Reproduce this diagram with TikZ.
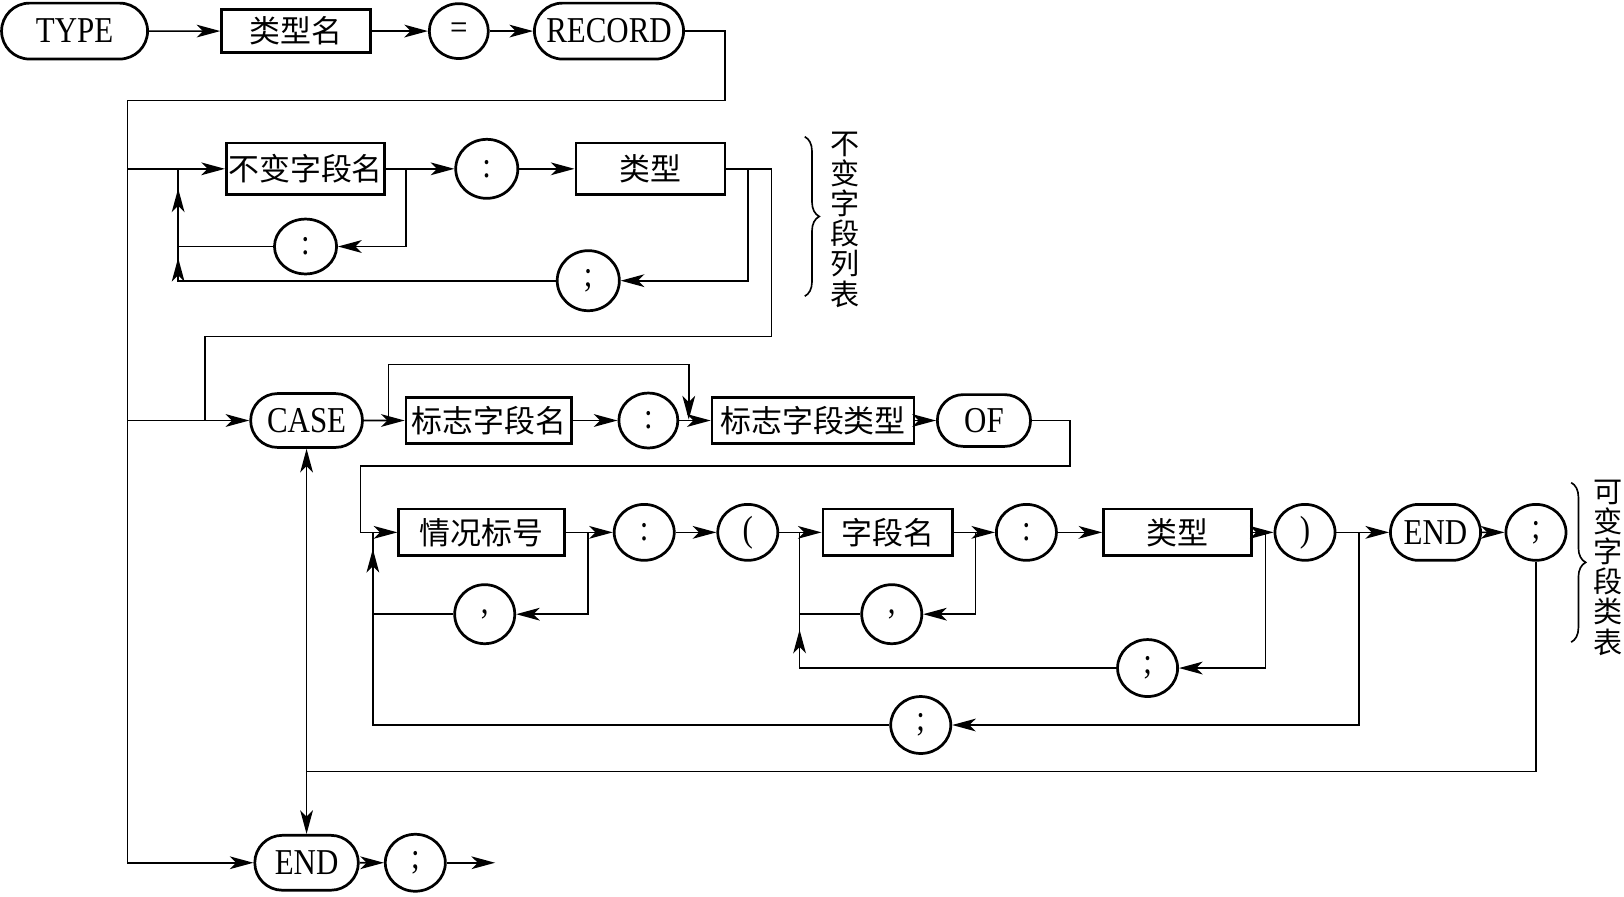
\documentclass[tikz,border=0pt]{standalone}
\usepackage{fontspec}
\setmainfont{Liberation Serif}[FakeStretch=0.85]
\newfontfamily\cjk{Noto Sans CJK SC}
\usetikzlibrary{shapes.geometric,shapes.misc,arrows.meta,decorations.pathreplacing}
\newcommand{\latf}{\fontsize{20pt}{22pt}\selectfont}
\newcommand{\cjkf}{\cjk\fontsize{17pt}{20pt}\selectfont}
\newcommand{\cjkb}{\cjk\fontsize{16pt}{16.6pt}\selectfont}
\begin{document}
\begin{tikzpicture}[x=0.02cm,y=-0.02cm,
  conn/.style={line width=0.9pt},
  arr/.style={conn,-{Stealth[length=13pt,width=7pt,inset=3.5pt]}},
  term/.style={rounded rectangle, draw, line width=1.5pt, inner sep=0pt, minimum height=1.08cm, font=\latf},
  box/.style={rectangle, draw, line width=1.5pt, inner sep=0pt, minimum height=0.9cm, font=\cjkf},
  ov/.style={ellipse, draw, line width=1.5pt, inner sep=0pt, minimum width=1.16cm, minimum height=1.08cm, font=\latf},
  bracestyle/.style={conn, decorate, decoration={brace, amplitude=0.28cm}}]
\useasboundingbox (0,0) rectangle (1568,866);

% row 1
\node[term, minimum width=2.82cm] (type) at (72,30) {TYPE};
\node[box, minimum width=2.88cm, minimum height=0.84cm] (tname) at (286,30) {类型名};
\node[ov, minimum width=1.14cm, minimum height=1.06cm] (eq) at (443,30) {\raisebox{-2pt}{=}};
\node[term, minimum width=2.88cm] (rec) at (588,30) {RECORD};
\draw[arr] (type) -- (tname);
\draw[arr] (tname) -- (eq);
\draw[arr] (eq) -- (rec);
\coordinate (r1) at (700,30);
\coordinate (r2) at (700,97);
\coordinate (L0) at (123,97);
\coordinate (L1) at (123,163);
\coordinate (L2) at (123,406);
\coordinate (L3) at (123,833);
\draw[conn] (rec.east) -- (r1) -- (r2) -- (L0) -- (L3);

% row 2
\node[box, minimum width=3.06cm, minimum height=1cm] (bz1) at (295,163) {不变字段名};
\node[ov, minimum width=1.2cm, minimum height=1.14cm] (c1) at (470,163) {:};
\node[box, minimum width=2.88cm, minimum height=1cm] (lx1) at (628,163) {类型};
\node[ov, minimum width=1.2cm, minimum height=1.06cm] (c2) at (295,238) {:};
\node[ov, minimum width=1.2cm, minimum height=1.16cm] (s1) at (568,271) {;};
\draw[arr] (L1) -- (bz1);
\draw[arr] (bz1) -- (c1);
\draw[arr] (c1) -- (lx1);
\coordinate (a1) at (392,163);
\coordinate (a2) at (392,238);
\draw[arr] (a1) -- (a2) -- (c2);
\coordinate (b0) at (172,163);
\coordinate (b0t) at (172,182);
\coordinate (b1) at (172,238);
\coordinate (b1t) at (172,249);
\coordinate (b2) at (172,271);
\draw[conn] (c2.west) -- (b1);
\draw[conn] (s1.west) -- (b2) -- (b0);
\draw[arr] (b2) -- (b1t);
\draw[arr] (b1) -- (b0t);
\coordinate (d1) at (722,163);
\coordinate (d2) at (722,271);
\draw[arr] (d1) -- (d2) -- (s1);
\coordinate (e1) at (745,163);
\coordinate (e2) at (745,325);
\coordinate (e3) at (198,325);
\coordinate (e4) at (198,406);
\draw[conn] (lx1.east) -- (e1) -- (e2) -- (e3) -- (e4);
\draw[bracestyle] (777,132) -- (777,286);
\node[font=\cjkb, align=center, inner sep=0pt] (t1) at (816,212) {不\\变\\字\\段\\列\\表};

% CASE row
\node[term, minimum width=2.16cm, minimum height=1.04cm] (case) at (296,406) {CASE};
\node[box, minimum width=3.2cm] (bzm) at (472,406) {标志字段名};
\node[ov, minimum width=1.14cm, minimum height=1.06cm] (c3) at (626,406) {:};
\node[box, minimum width=3.9cm] (bzt) at (785,406) {标志字段类型};
\node[term, minimum width=1.8cm, minimum height=1.0cm] (of) at (950,406) {OF};
\draw[arr] (L2) -- (case);
\draw[arr] (case) -- (bzm);
\draw[arr] (bzm) -- (c3);
\draw[arr] (c3) -- (bzt);
\draw[arr] (bzt) -- (of);
\coordinate (f1) at (375,406);
\coordinate (f2) at (375,352);
\coordinate (f3) at (665,352);
\coordinate (f4) at (665,405);
\draw[arr] (f1) -- (f2) -- (f3) -- (f4);
\coordinate (g1) at (1033,406);
\coordinate (g2) at (1033,450);
\coordinate (g3) at (348,450);
\coordinate (g4) at (348,514);
\draw[conn] (of.east) -- (g1) -- (g2) -- (g3) -- (g4);

% case body row
\node[box, minimum width=3.2cm] (qk) at (465,514) {情况标号};
\node[ov] (c4) at (622,514) {:};
\node[ov] (lp) at (722,514) {(};
\node[box, minimum width=2.5cm] (zd) at (857,514) {字段名};
\node[ov] (c5) at (991,514) {:};
\node[box, minimum width=2.86cm] (lx2) at (1137,514) {类型};
\node[ov] (rp) at (1260,514) {)};
\node[term, minimum width=1.74cm] (end1) at (1386,514) {END};
\node[ov] (s2) at (1483,514) {;};
\node[ov, minimum height=1.14cm] (cm1) at (468,593) {,};
\node[ov, minimum height=1.14cm] (cm2) at (861,593) {,};
\node[ov, minimum height=1.1cm] (s3) at (1108,645) {;};
\node[ov, minimum height=1.1cm] (s4) at (889,700) {;};
\draw[arr] (g4) -- (qk);
\draw[arr] (qk) -- (c4);
\draw[arr] (c4) -- (lp);
\draw[arr] (lp) -- (zd);
\draw[arr] (zd) -- (c5);
\draw[arr] (c5) -- (lx2);
\draw[arr] (lx2) -- (rp);
\draw[arr] (rp) -- (end1);
\draw[arr] (end1) -- (s2);
\coordinate (h1) at (568,514);
\coordinate (h2) at (568,593);
\draw[arr] (h1) -- (h2) -- (cm1);
\coordinate (k0) at (360,514);
\coordinate (k0t) at (360,530);
\coordinate (k1) at (360,593);
\coordinate (k2) at (360,700);
\draw[conn] (cm1.west) -- (k1);
\draw[conn] (s4.west) -- (k2) -- (k0);
\draw[arr] (k1) -- (k0t);
\coordinate (m1) at (942,514);
\coordinate (m2) at (942,593);
\draw[arr] (m1) -- (m2) -- (cm2);
\coordinate (n0) at (772,514);
\coordinate (n1) at (772,593);
\coordinate (n1t) at (772,608);
\coordinate (n2) at (772,645);
\draw[conn] (cm2.west) -- (n1);
\draw[conn] (s3.west) -- (n2) -- (n0);
\draw[arr] (n2) -- (n1t);
\coordinate (p1) at (1222,514);
\coordinate (p2) at (1222,645);
\draw[arr] (p1) -- (p2) -- (s3);
\coordinate (q1) at (1312,514);
\coordinate (q2) at (1312,700);
\draw[arr] (q1) -- (q2) -- (s4);
\draw[bracestyle] (1517,466) -- (1517,620);
\node[font=\cjkb, align=center, inner sep=0pt] (t2) at (1553,548) {可\\变\\字\\段\\类\\表};

% bottom
\node[term, minimum width=2cm, minimum height=1.06cm] (end2) at (296,833) {END};
\node[ov, minimum height=1.1cm] (s5) at (401,833) {;};
\coordinate (u1) at (1483,745);
\coordinate (u2) at (296,745);
\coordinate (out) at (478,833);
\draw[conn] (s2.south) -- (u1) -- (u2);
\draw[arr] (u2) -- (case.south);
\draw[arr] (u2) -- (end2.north);
\draw[arr] (L3) -- (end2);
\draw[arr] (end2) -- (s5);
\draw[arr] (s5) -- (out);
\end{tikzpicture}
\end{document}
